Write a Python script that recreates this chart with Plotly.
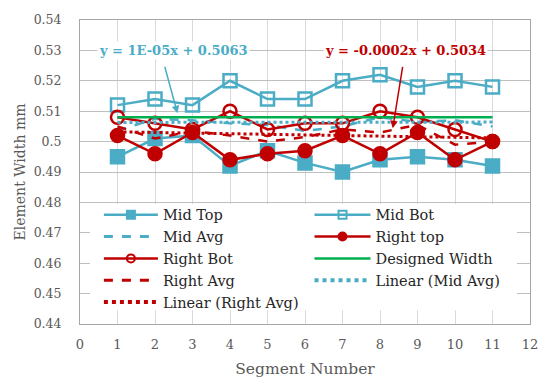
import plotly.graph_objects as go

segments = [1, 2, 3, 4, 5, 6, 7, 8, 9, 10, 11]
mid_top = [0.495, 0.501, 0.502, 0.492, 0.497, 0.493, 0.490, 0.494, 0.495, 0.494, 0.492]
mid_bot = [0.512, 0.514, 0.512, 0.520, 0.514, 0.514, 0.520, 0.522, 0.518, 0.520, 0.518]
mid_avg = [0.5035, 0.5075, 0.507, 0.506, 0.5055, 0.5035, 0.505, 0.508, 0.5065, 0.507, 0.505]
right_top = [0.502, 0.496, 0.503, 0.494, 0.496, 0.497, 0.502, 0.496, 0.503, 0.494, 0.500]
right_bot = [0.508, 0.506, 0.504, 0.510, 0.504, 0.506, 0.506, 0.510, 0.508, 0.504, 0.500]
right_avg = [0.505, 0.501, 0.5035, 0.502, 0.500, 0.5015, 0.504, 0.503, 0.5055, 0.499, 0.500]
designed = [0.508] * 11
trend_mid = (0.00001, 0.5063)
trend_right = (-0.0002, 0.5034)

TEAL = "#4BACC6"
RED = "#C00000"
GREEN = "#00B050"
FONT = "DejaVu Serif"

fig = go.Figure()


def add(name, y, color, legend, dash="solid", symbol=None, width=2.5, lwidth=2.5):
    mode = "lines+markers" if symbol else "lines"
    marker = dict(symbol=symbol, size=13, color=color, line=dict(width=2.5, color=color)) if symbol else None
    fig.add_trace(go.Scatter(x=y[0], y=y[1], name=name, mode=mode, showlegend=False,
                             line=dict(color=color, width=width, dash=dash), marker=marker))
    lmarker = dict(symbol=symbol, size=8, color=color, line=dict(width=2, color=color)) if symbol else None
    fig.add_trace(go.Scatter(x=[None], y=[None], name=name, mode=mode, legend=legend,
                             line=dict(color=color, width=lwidth, dash=dash), marker=lmarker))


add("Mid Top", (segments, mid_top), TEAL, "legend", symbol="square")
add("Mid Bot", (segments, mid_bot), TEAL, "legend2", symbol="square-open")
add("Mid Avg", (segments, mid_avg), TEAL, "legend", dash="dash", lwidth=3)
add("Right top", (segments, right_top), RED, "legend2", symbol="circle")
add("Right Bot", (segments, right_bot), RED, "legend", symbol="circle-open")
add("Designed Width", (segments, designed), GREEN, "legend2")
add("Right Avg", (segments, right_avg), RED, "legend", dash="dash", lwidth=3)
trend_x = [segments[0], segments[-1]]
add("Linear (Mid Avg)", (trend_x, [trend_mid[0] * v + trend_mid[1] for v in trend_x]), TEAL, "legend2",
    dash="dot", width=3, lwidth=4)
add("Linear (Right Avg)", (trend_x, [trend_right[0] * v + trend_right[1] for v in trend_x]), RED, "legend",
    dash="dot", width=3, lwidth=4)

# white panel behind the legend (covers gridlines like the original)
fig.add_shape(type="rect", xref="paper", yref="paper", x0=0.022, x1=0.971, y0=0.045, y1=0.395,
              fillcolor="white", line=dict(width=0), layer="above")

fig.add_annotation(x=2.6, y=0.5093, ax=2.25, ay=0.5251, axref="x", ayref="y", xref="x", yref="y",
                   text="", showarrow=True, arrowhead=2, arrowsize=1, arrowwidth=1.5, arrowcolor=TEAL)
fig.add_annotation(x=8.34, y=0.5044, ax=8.61, ay=0.5251, axref="x", ayref="y", xref="x", yref="y",
                   text="", showarrow=True, arrowhead=2, arrowsize=1, arrowwidth=1.5, arrowcolor=RED)
fig.add_annotation(x=2.49, y=0.530, xref="x", yref="y", text="<b>y = 1E-05x + 0.5063</b>",
                   showarrow=False, font=dict(family=FONT, size=13, color=TEAL), bgcolor="white")
fig.add_annotation(x=8.69, y=0.530, xref="x", yref="y", text="<b>y = -0.0002x + 0.5034</b>",
                   showarrow=False, font=dict(family=FONT, size=13, color=RED), bgcolor="white")

legend_font = dict(family=FONT, size=14.5, color="#262626")
fig.update_layout(
    width=550, height=386,
    margin=dict(l=80, r=17, t=17, b=60),
    paper_bgcolor="white", plot_bgcolor="white",
    font=dict(family=FONT, color="#595959"),
    legend=dict(x=0.042, y=0.412, xanchor="left", yanchor="top", bgcolor="rgba(0,0,0,0)",
                font=legend_font, itemwidth=54, tracegroupgap=0),
    legend2=dict(x=0.51, y=0.412, xanchor="left", yanchor="top", bgcolor="rgba(0,0,0,0)",
                 font=legend_font, itemwidth=56, tracegroupgap=0),
    xaxis=dict(range=[0, 12], dtick=1, tick0=0, showgrid=True, gridcolor="#D9D9D9",
               showline=True, linecolor="#A6A6A6", mirror=True, zeroline=False,
               ticklabelstandoff=8,
               tickfont=dict(size=13, color="#595959"),
               title=dict(text="Segment Number", font=dict(size=15.5, color="#595959"), standoff=12)),
    yaxis=dict(range=[0.44, 0.54], dtick=0.01, tick0=0.44, showgrid=True, gridcolor="#BFBFBF",
               showline=True, linecolor="#A6A6A6", mirror=True, zeroline=False,
               ticklabelstandoff=15,
               tickfont=dict(size=12.5, color="#595959"),
               title=dict(text="Element Width mm", font=dict(size=14, color="#595959"), standoff=4)),
)

fig.write_html("out.html", config={"displayModeBar": False},
               post_script="document.body.style.margin='0';")
